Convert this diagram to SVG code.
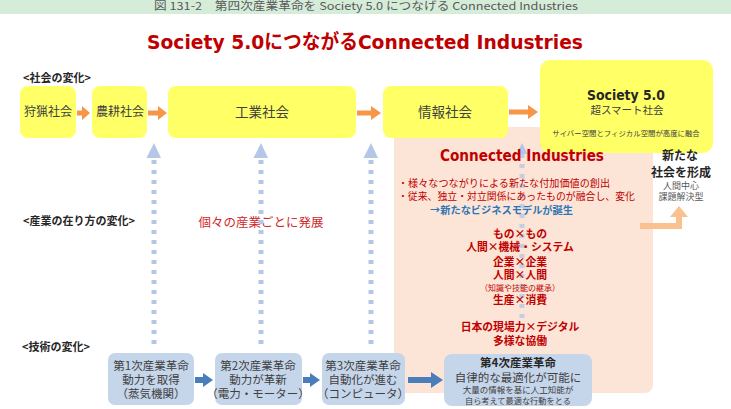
<svg xmlns="http://www.w3.org/2000/svg" width="731" height="409" viewBox="0 0 731 409">
<style>
text{font-family:"Noto Sans CJK JP","DejaVu Sans",sans-serif;}
.lat{font-family:"DejaVu Sans","Noto Sans CJK JP",sans-serif;}
.ybox{fill:#ffff66;}
.bbox{fill:#c5d5ea;}
.oarr{fill:#f79646;}
.barr{fill:#4a7ebb;}
.dot{stroke:#b4c7e7;stroke-width:5;stroke-dasharray:4 6;fill:none;}
.dhead{fill:#b4c7e7;}
.hd{font-size:11px;font-weight:bold;fill:#262626;}
.red{fill:#c00000;}
.ctr{text-anchor:middle;}
.gt{fill:#404040;}
</style>
<rect x="0" y="0" width="731" height="14" fill="#d5ecd9"/>
<text x="366" y="10" class="ctr" font-size="11" fill="#595959" textLength="424" lengthAdjust="spacingAndGlyphs">図 131-2　第四次産業革命を Society 5.0 につなげる Connected Industries</text>
<text x="365" y="49" class="ctr lat red" font-size="20" font-weight="bold" textLength="436" lengthAdjust="spacingAndGlyphs">Society 5.0につながるConnected Industries</text>

<g id="peach"><rect x="394" y="127" width="259" height="266" rx="8" fill="#fce5d6"/></g>

<g id="labels">
<text x="23" y="82" class="hd">&lt;社会の変化&gt;</text>
<text x="23" y="225" class="hd">&lt;産業の在り方の変化&gt;</text>
<text x="22" y="351" class="hd">&lt;技術の変化&gt;</text>
<text x="261" y="227" class="ctr" font-size="12.5" fill="#d02828">個々の産業ごとに発展</text>
</g>

<g id="connectors">
<path class="dot" d="M154,160 V350 M261,160 V350 M371,160 V350"/>
<path class="dhead" d="M154,143 L161,158 L146.5,158 Z M261,143 L268,158 L253.5,158 Z M371,143 L378,158 L363.5,158 Z"/>
<path class="dot" d="M522,154 V322" opacity="0.8"/>
<path class="dhead" d="M522,143 L527.5,154 L516.5,154 Z"/>
<path class="oarr" d="M77,110.5 H82 V106 L90,113 L82,120 V115.5 H77 Z"/>
<path class="oarr" d="M148,110.5 H158 V106 L167,113 L158,120 V115.5 H148 Z"/>
<path class="oarr" d="M357,110.5 H371 V106 L381,113 L371,120 V115.5 H357 Z"/>
<path class="oarr" d="M509,109.5 H528 V105 L538,112 L528,119 V114.5 H509 Z"/>
<path class="barr" d="M195,377 H203 V373 L213,380 L203,387 V383 H195 Z"/>
<path class="barr" d="M303,377 H310 V373 L320,380 L310,387 V383 H303 Z"/>
<path class="barr" d="M408,377 H431 V372 L443,380 L431,388 V383 H408 Z"/>
<path fill="#fac090" d="M640,223 H676 V217 H670 L679,206 L688,217 H682 V229 H640 Z"/>
</g>

<g id="n-hunt"><rect class="ybox" x="20" y="86" width="56" height="52" rx="8"/><text x="48" y="116" class="ctr gt" font-size="12">狩猟社会</text></g>
<g id="n-agri"><rect class="ybox" x="92" y="86" width="55" height="52" rx="8"/><text x="120" y="116" class="ctr gt" font-size="12">農耕社会</text></g>
<g id="n-ind"><rect class="ybox" x="168" y="86" width="188" height="52" rx="8"/><text x="262" y="117" class="ctr gt" font-size="13.5">工業社会</text></g>
<g id="n-info"><rect class="ybox" x="383" y="86" width="125" height="52" rx="8"/><text x="445" y="117" class="ctr gt" font-size="13.5">情報社会</text></g>
<g id="n-s5"><rect class="ybox" x="540" y="60" width="173" height="93" rx="10"/>
<text x="626" y="100" class="ctr lat" font-size="14" font-weight="bold" fill="#262626" textLength="78" lengthAdjust="spacingAndGlyphs">Society 5.0</text>
<text x="627" y="114" class="ctr gt" font-size="10.5">超スマート社会</text>
<text x="626" y="136" class="ctr gt" font-size="7.4">サイバー空間とフィジカル空間が高度に融合</text>
</g>

<g id="n-ci">
<text x="522" y="161" class="ctr lat red" font-size="15" font-weight="bold" textLength="164" lengthAdjust="spacingAndGlyphs">Connected Industries</text>
<text x="398" y="187" class="red" font-size="10" textLength="212" lengthAdjust="spacingAndGlyphs">・様々なつながりによる新たな付加価値の創出</text>
<text x="398" y="200" class="red" font-size="10" textLength="237" lengthAdjust="spacingAndGlyphs">・従来、独立・対立関係にあったものが融合し、変化</text>
<text x="430" y="214" font-size="10" font-weight="bold" fill="#2e75b6" textLength="143" lengthAdjust="spacingAndGlyphs">→新たなビジネスモデルが誕生</text>
<g class="ctr red" font-size="10.8" font-weight="bold">
<text x="520" y="238">もの×もの</text>
<text x="520" y="251">人間×機械・システム</text>
<text x="520" y="266">企業×企業</text>
<text x="520" y="279">人間×人間</text>
<text x="520" y="291" font-size="8" font-weight="normal">（知識や技能の継承）</text>
<text x="520" y="304">生産×消費</text>
<text x="520" y="331">日本の現場力×デジタル</text>
<text x="520" y="345">多様な協働</text>
</g>
</g>

<g id="n-new">
<text x="680" y="160" class="ctr" font-size="12" font-weight="bold" fill="#262626">新たな</text>
<text x="681" y="177" class="ctr" font-size="12" font-weight="bold" fill="#262626">社会を形成</text>
<text x="681" y="189" class="ctr" font-size="9" fill="#595959">人間中心</text>
<text x="681" y="200" class="ctr" font-size="9" fill="#595959">課題解決型</text>
</g>

<g id="n-r1"><rect class="bbox" x="108" y="353" width="86" height="52" rx="7"/>
<text x="151" y="370" class="ctr gt" font-size="11.5">第1次産業革命</text>
<text x="151" y="384" class="ctr gt" font-size="11.5">動力を取得</text>
<text x="151" y="398" class="ctr gt" font-size="11.5">（蒸気機関）</text></g>
<g id="n-r2"><rect class="bbox" x="215" y="353" width="87" height="52" rx="7"/>
<text x="258" y="370" class="ctr gt" font-size="11.5">第2次産業革命</text>
<text x="258" y="384" class="ctr gt" font-size="11.5">動力が革新</text>
<text x="258" y="398" class="ctr gt" font-size="11.5">（電力・モーター）</text></g>
<g id="n-r3"><rect class="bbox" x="322" y="353" width="83" height="52" rx="7"/>
<text x="363" y="370" class="ctr gt" font-size="11.5">第3次産業革命</text>
<text x="363" y="384" class="ctr gt" font-size="11.5">自動化が進む</text>
<text x="363" y="398" class="ctr gt" font-size="11.5">（コンピュータ）</text></g>
<g id="n-r4"><rect class="bbox" x="444" y="354" width="148" height="52" rx="8"/>
<text x="518" y="367" class="ctr" font-size="11.5" font-weight="bold" fill="#262626">第4次産業革命</text>
<text x="518" y="382" class="ctr gt" font-size="11.5">自律的な最適化が可能に</text>
<text x="518" y="393" class="ctr gt" font-size="8.5">大量の情報を基に人工知能が</text>
<text x="518" y="404" class="ctr gt" font-size="8.2">自ら考えて最適な行動をとる</text></g>
</svg>
